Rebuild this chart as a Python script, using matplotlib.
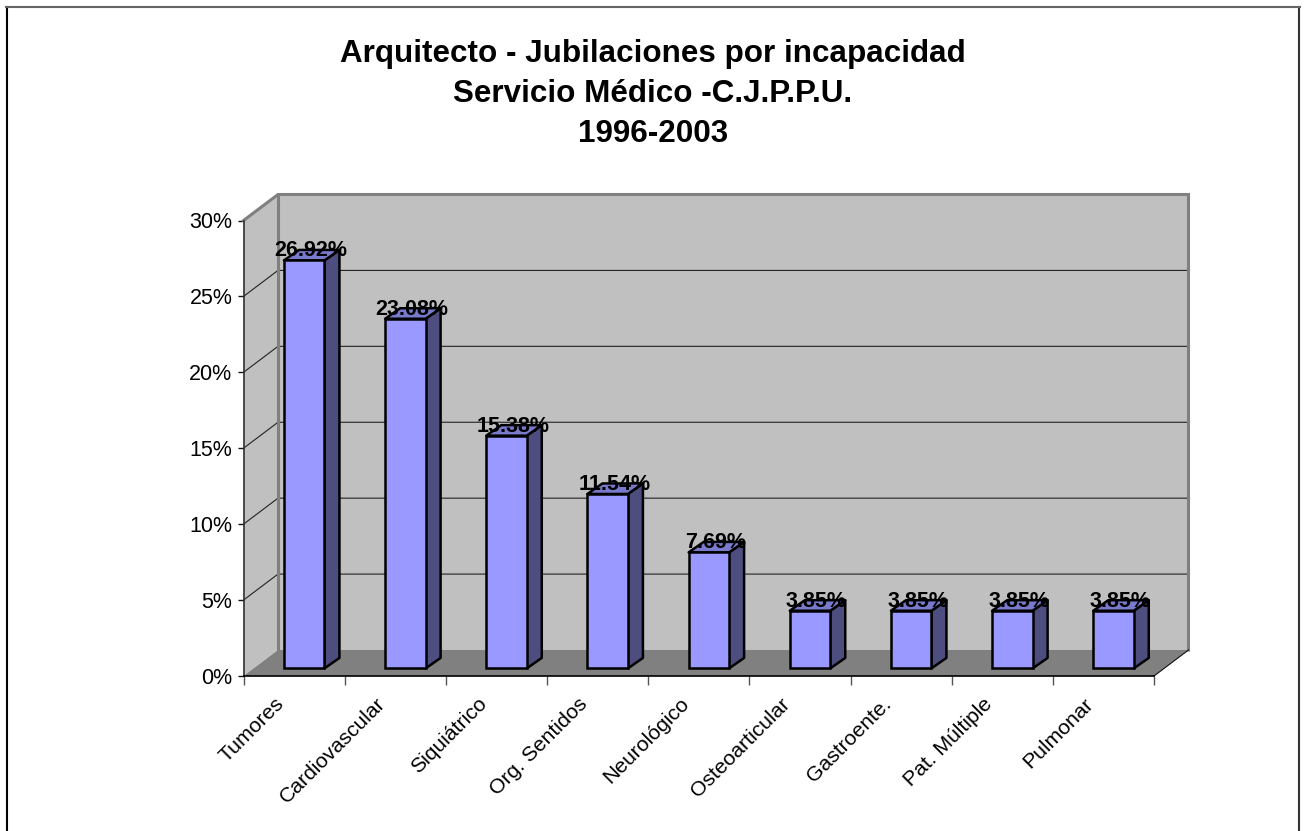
import matplotlib
matplotlib.use("Agg")
import matplotlib.pyplot as plt
from matplotlib.lines import Line2D
from matplotlib.patches import Polygon

categories = ["Tumores", "Cardiovascular", "Siquiátrico", "Org. Sentidos", "Neurológico",
              "Osteoarticular", "Gastroente.", "Pat. Múltiple", "Pulmonar"]
values = [26.92, 23.08, 15.38, 11.54, 7.69, 3.85, 3.85, 3.85, 3.85]
y_ticks = [0, 5, 10, 15, 20, 25, 30]
title = "Arquitecto - Jubilaciones por incapacidad\nServicio Médico -C.J.P.P.U.\n1996-2003"

W, H = 1305, 831
plt.rcParams["font.family"] = ["Liberation Sans", "DejaVu Sans"]
fig = plt.figure(figsize=(W / 100, H / 100), dpi=100, facecolor="white")

L, R, T, B = 243.5, 1154, 220.5, 676
ax = fig.add_axes([L / W, 1 - B / H, (R - L) / W, (B - T) / H])
ax.set_xlim(0, len(categories))
ax.set_ylim(0, 30)
ax.patch.set_visible(False)
px_x = (R - L) / len(categories)
px_y = (B - T) / 30
DX, DY = 34.5 / px_x, 26 / px_y

# walls and floor
top = y_ticks[-1]
n = len(categories)
ax.add_patch(Polygon([(0, 0), (DX, DY), (DX, top + DY), (0, top)], fc="#C0C0C0", ec="none", zorder=1, clip_on=False))
ax.add_patch(Polygon([(DX, DY), (n + DX, DY), (n + DX, top + DY), (DX, top + DY)], fc="#C0C0C0", ec="none", zorder=1, clip_on=False))
ax.add_patch(Polygon([(0, 0), (DX, DY), (n + DX, DY), (n, 0)], fc="#808080", ec="none", zorder=1.5, clip_on=False))
for t in y_ticks[1:-1]:
    ax.plot([0, DX, n + DX], [t, t + DY, t + DY], color="#222222", lw=0.8, zorder=2, clip_on=False)
ax.plot([0, DX, n + DX, n + DX], [top, top + DY, top + DY, DY], color="#808080", lw=2.2, zorder=2.2, clip_on=False, solid_joinstyle="miter")
ax.plot([DX, DX], [DY, top + DY], color="#808080", lw=2.2, zorder=2.2, clip_on=False)
ax.plot([n, n + DX], [0, DY], color="#111111", lw=0.8, zorder=2.2, clip_on=False)

# 3D bars
x0, bw, base = 0.40, 0.40, 0.5
ddx, ddy = 15 / px_x, 10.5 / px_y
lw = 1.8
for i, v in enumerate(values):
    x1 = i + x0
    x2 = x1 + bw
    yt = v + base - 0.05
    ax.bar(x1, yt - base, bw, bottom=base, align="edge", fc="#9999FF", ec="black", lw=lw, zorder=4, clip_on=False)
    ax.add_patch(Polygon([(x2, base), (x2 + ddx, base + ddy), (x2 + ddx, yt + ddy), (x2, yt)], fc="#4D4D80",
                         ec="black", lw=lw, joinstyle="round", zorder=3.5, clip_on=False))
    ax.add_patch(Polygon([(x1, yt), (x1 + ddx, yt + ddy), (x2 + ddx, yt + ddy), (x2, yt)], fc="#7A7ACC",
                         ec="black", lw=lw, joinstyle="round", zorder=3.5, clip_on=False))
    ax.annotate(f"{v:.2f}%", xy=(x1 + bw / 2, yt), xytext=(6.5 * 0.72, 9.5 * 0.72), textcoords="offset points",
                ha="center", va="center", fontsize=15.5, fontweight="bold", color="black", zorder=6, annotation_clip=False)

# axes
for s in ("top", "right"):
    ax.spines[s].set_visible(False)
for s in ("left", "bottom"):
    ax.spines[s].set_linewidth(1.2)
    ax.spines[s].set_color("#000000")
    ax.spines[s].set_zorder(3)
ax.spines["left"].set_color("#333333")
ax.set_yticks(y_ticks)
ax.set_yticklabels([f"{t}%" for t in y_ticks], fontsize=15.5, color="black")
ax.tick_params(axis="y", length=4.5, width=1, pad=3.5, color="#111111")
ax.set_xticks(range(n + 1))
ax.set_xticklabels([])
ax.tick_params(axis="x", length=6.5, width=1, color="#555555")
for i, c in enumerate(categories):
    ax.annotate(c, xy=(i + 0.5, 0), xytext=(-19.5 * 0.72, -18 * 0.72), textcoords="offset points",
                ha="right", va="top", rotation=45, rotation_mode="anchor", fontsize=15.2, color="black",
                annotation_clip=False)

fig.text(653 / W, 1 - 94 / H, title, ha="center", va="center", fontsize=22.6, fontweight="bold",
         linespacing=1.45, color="black")

# chart-area frame
fig.add_artist(Line2D([6.5 / W, 6.5 / W], [0, 1 - 6.5 / H], color="black", lw=1.5))
fig.add_artist(Line2D([1299 / W, 1299 / W], [0, 1 - 6.5 / H], color="#333333", lw=1.5))
fig.add_artist(Line2D([6 / W, 1300 / W], [1 - 6.5 / H, 1 - 6.5 / H], color="#666666", lw=1.5))

fig.savefig("out.png", dpi=100, facecolor="white")
